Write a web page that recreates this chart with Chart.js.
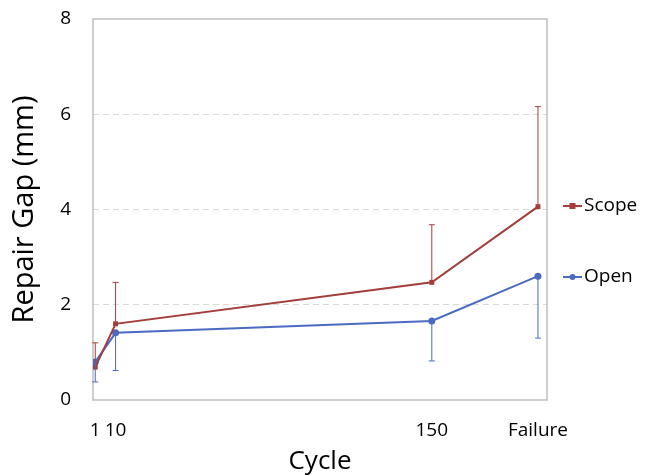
<!DOCTYPE html>
<html>
<head>
<meta charset="utf-8">
<script src="https://cdn.jsdelivr.net/npm/chart.js@4/dist/chart.umd.min.js"></script>
<style>
html,body{margin:0;padding:0;background:#fff;}
#wrap{width:654px;height:475px;position:relative;}
</style>
</head>
<body>
<div id="wrap"><canvas id="c" width="654" height="475"></canvas></div>
<script>
// Data
const cycles = [1, 10, 150, 197];
const tickLabels = ['1', '10', '150', 'Failure'];
const scopeValues = [0.69, 1.60, 2.47, 4.06];
const scopeErrUp = [0.51, 0.87, 1.21, 2.10];
const openValues = [0.80, 1.41, 1.66, 2.60];
const openErrDown = [0.42, 0.79, 0.84, 1.30];
const seriesNames = ['Scope', 'Open'];
const yTicks = [0, 2, 4, 6, 8];

const RED = '#A33E3B';
const BLUE = '#4A6BC0';
const FONT = '"Open Sans", "Noto Sans", sans-serif';

const errorBars = {
  id: 'errorBars',
  afterDatasetsDraw(chart) {
    const ctx = chart.ctx;
    const xs = chart.scales.x, ys = chart.scales.y;
    chart.data.datasets.forEach((ds) => {
      ctx.save();
      ctx.strokeStyle = ds.borderColor;
      ctx.lineWidth = 1;
      ds.data.forEach((p, i) => {
        const x = xs.getPixelForValue(p.x);
        const y0 = ys.getPixelForValue(p.y);
        const end = ds.errDir > 0 ? p.y + ds.err[i] : p.y - ds.err[i];
        const y1 = ys.getPixelForValue(end);
        ctx.beginPath();
        ctx.moveTo(x, y0);
        ctx.lineTo(x, y1);
        ctx.moveTo(x - 3, y1);
        ctx.lineTo(x + 3, y1);
        ctx.stroke();
      });
      ctx.restore();
    });
  }
};

const frame = {
  id: 'frame',
  beforeDatasetsDraw(chart) {
    const {ctx, chartArea: a} = chart;
    ctx.save();
    ctx.strokeStyle = '#BFBFBF';
    ctx.lineWidth = 1.5;
    ctx.strokeRect(a.left, a.top, a.right - a.left, a.bottom - a.top);
    ctx.restore();
  }
};

const legendPlugin = {
  id: 'customLegend',
  afterDraw(chart) {
    const ctx = chart.ctx;
    const rows = [206, 277];
    chart.data.datasets.forEach((ds, i) => {
      const y = rows[i];
      ctx.save();
      ctx.strokeStyle = ds.borderColor;
      ctx.fillStyle = ds.borderColor;
      ctx.lineWidth = 2;
      ctx.beginPath();
      ctx.moveTo(563, y);
      ctx.lineTo(582, y);
      ctx.stroke();
      if (ds.pointStyle === 'rect') {
        ctx.fillRect(569.5, y - 3, 6, 6);
      } else {
        ctx.beginPath();
        ctx.arc(572.5, y, 3, 0, Math.PI * 2);
        ctx.fill();
      }
      ctx.fillStyle = '#000';
      ctx.font = '19px ' + FONT;
      ctx.textBaseline = 'middle';
      ctx.textAlign = 'left';
      ctx.fillText(ds.label, 584, y);
      ctx.restore();
    });
  }
};

function pts(xs, ys) { return xs.map((x, i) => ({x: x, y: ys[i]})); }

new Chart(document.getElementById('c'), {
  type: 'line',
  data: {
    datasets: [
      {
        label: seriesNames[0],
        data: pts(cycles, scopeValues),
        err: scopeErrUp,
        errDir: 1,
        borderColor: RED,
        backgroundColor: RED,
        borderWidth: 2,
        pointStyle: 'rect',
        pointRadius: 3.5,
        pointBorderWidth: 0,
        tension: 0
      },
      {
        label: seriesNames[1],
        data: pts(cycles, openValues),
        err: openErrDown,
        errDir: -1,
        borderColor: BLUE,
        backgroundColor: BLUE,
        borderWidth: 2,
        pointStyle: 'circle',
        pointRadius: 3.5,
        pointBorderWidth: 0,
        tension: 0
      }
    ]
  },
  options: {
    responsive: false,
    animation: false,
    layout: {padding: {left: 0, right: 107, top: 19, bottom: 0}},
    plugins: {legend: {display: false}, tooltip: {enabled: false}},
    scales: {
      x: {
        type: 'linear',
        min: 0,
        max: 201,
        afterBuildTicks(s) { s.ticks = cycles.map(v => ({value: v})); },
        afterFit(s) { s.height = 75; s.paddingLeft = 0; s.paddingRight = 0; },
        grid: {display: false, drawTicks: false},
        border: {display: false},
        ticks: {
          autoSkip: false,
          maxRotation: 0,
          padding: 19,
          color: '#000',
          font: {family: FONT, size: 19},
          callback(v) { const i = cycles.indexOf(v); return i >= 0 ? tickLabels[i] : ''; }
        },
        title: {
          display: true,
          text: 'Cycle',
          color: '#000',
          font: {family: FONT, size: 26, lineHeight: 1},
          padding: {top: 0, bottom: 0}
        }
      },
      y: {
        min: 0,
        max: 8,
        afterBuildTicks(s) { s.ticks = yTicks.map(v => ({value: v})); },
        afterFit(s) { s.width = 93; s.paddingTop = 0; s.paddingBottom = 0; },
        grid: {
          drawTicks: false,
          color(c) { return (c.tick && (c.tick.value === 0 || c.tick.value === 8)) ? 'rgba(0,0,0,0)' : '#D9D9D9'; },
          lineWidth: 1
        },
        border: {display: false, dash: [6, 4]},
        ticks: {
          padding: 22,
          color: '#000',
          font: {family: FONT, size: 19}
        },
        title: {
          display: true,
          text: 'Repair Gap (mm)',
          color: '#000',
          font: {family: FONT, size: 29, lineHeight: 1},
          padding: {top: 10, bottom: 0}
        }
      }
    }
  },
  plugins: [frame, errorBars, legendPlugin]
});
</script>
</body>
</html>
